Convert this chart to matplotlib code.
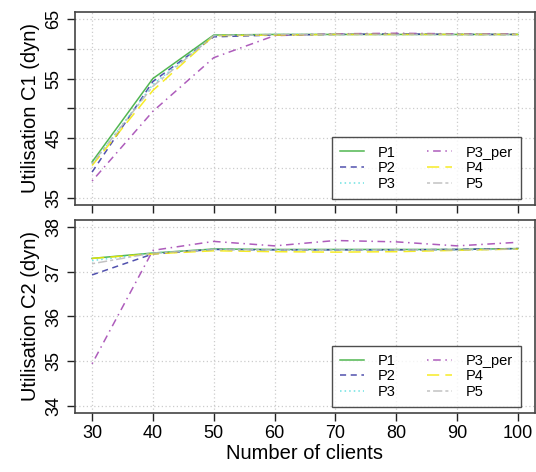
import matplotlib
matplotlib.use("Agg")
import matplotlib.pyplot as plt
from matplotlib.ticker import FixedLocator, FuncFormatter

plt.rcParams["font.family"] = ["Liberation Sans", "DejaVu Sans"]

# ---------- data ----------
clients = [30, 40, 50, 60, 70, 80, 90, 100]
series_names = ["P1", "P2", "P3", "P3_per", "P4", "P5"]

c1_p1 = [41.0, 55.0, 62.3, 62.4, 62.4, 62.4, 62.4, 62.4]
c1_p2 = [39.3, 54.5, 62.0, 62.3, 62.4, 62.5, 62.4, 62.4]
c1_p3 = [40.6, 54.0, 62.2, 62.4, 62.4, 62.4, 62.4, 62.4]
c1_p3_per = [37.8, 49.5, 58.5, 62.2, 62.5, 62.6, 62.5, 62.5]
c1_p4 = [40.4, 53.0, 62.2, 62.3, 62.4, 62.4, 62.4, 62.4]
c1_p5 = [40.7, 53.7, 62.2, 62.4, 62.4, 62.4, 62.4, 62.4]

c2_p1 = [37.30, 37.42, 37.51, 37.50, 37.50, 37.50, 37.50, 37.52]
c2_p2 = [36.93, 37.40, 37.50, 37.49, 37.49, 37.49, 37.50, 37.52]
c2_p3 = [37.25, 37.42, 37.50, 37.49, 37.49, 37.49, 37.49, 37.51]
c2_p3_per = [34.94, 37.48, 37.68, 37.58, 37.70, 37.67, 37.58, 37.66]
c2_p4 = [37.30, 37.40, 37.47, 37.45, 37.44, 37.45, 37.48, 37.51]
c2_p5 = [37.18, 37.42, 37.50, 37.49, 37.49, 37.49, 37.49, 37.51]

top_yticks = [35, 40, 45, 50, 55, 60, 65]
top_ylabels = [35, 45, 55, 65]
bot_yticks = [34, 35, 36, 37, 38]
xticks = [30, 40, 50, 60, 70, 80, 90, 100]

# ---------- styles ----------
COLORS = ["#33aa33", "#3333a0", "#55dddd", "#a040b0", "#f5e800", "#b8b8b8"]
STYLES = ["-", (0, (4, 3)), (0, (1, 2)), (0, (1, 3, 5, 3)), (0, (8, 4)), (0, (2, 2, 6, 2))]
FRAME = "#444444"


def r_range(lo, hi):
    # R-style 4% padding around the data range
    pad = (hi - lo) * 0.04
    return lo - pad, hi + pad


def style_axes(ax, yticks, ylim):
    ax.set_xlim(*r_range(30, 100))
    ax.set_ylim(*r_range(*ylim))
    ax.set_xticks(xticks)
    ax.yaxis.set_major_locator(FixedLocator(yticks))
    ax.grid(True, color="#cccccc", linestyle=(0, (1, 2)), linewidth=0.9)
    ax.set_axisbelow(True)
    for s in ax.spines.values():
        s.set_color(FRAME)
        s.set_linewidth(1.2)
    ax.tick_params(direction="out", length=6, width=1, color="#222222",
                   labelsize=13, pad=3)


def draw(ax, data):
    for name, ys, c, ls in zip(series_names, data, COLORS, STYLES):
        ax.plot(clients, ys, color=c, linestyle=ls, linewidth=1.1,
                alpha=0.85, label=name)
    leg = ax.legend(ncol=2, loc="lower right", bbox_to_anchor=(0.975, 0.015),
                    fontsize=10.5, frameon=True, fancybox=False,
                    handlelength=1.7, labelspacing=0.12, columnspacing=2.2,
                    borderpad=0.55, handletextpad=0.9, borderaxespad=0.2)
    leg.get_frame().set_edgecolor("#222222")
    leg.get_frame().set_linewidth(1.0)


fig = plt.figure(figsize=(5.36, 4.72), dpi=100)
ax1 = fig.add_axes([0.14, 0.566, 0.858, 0.409])
ax2 = fig.add_axes([0.14, 0.125, 0.858, 0.409])

draw(ax1, [c1_p1, c1_p2, c1_p3, c1_p3_per, c1_p4, c1_p5])
draw(ax2, [c2_p1, c2_p2, c2_p3, c2_p3_per, c2_p4, c2_p5])

style_axes(ax1, top_yticks, (35, 65))
style_axes(ax2, bot_yticks, (34, 38))

# top panel: ticks every 5, labels every 10
ax1.yaxis.set_major_formatter(
    FuncFormatter(lambda v, p: f"{int(v)}" if int(round(v)) in top_ylabels else ""))
ax1.tick_params(axis="x", labelbottom=False)
for ax in (ax1, ax2):
    for lbl in ax.get_yticklabels():
        lbl.set_rotation(90)
        lbl.set_va("center")

ax1.set_ylabel("Utilisation C1 (dyn)", fontsize=14.5, labelpad=4)
ax2.set_ylabel("Utilisation C2 (dyn)", fontsize=14.5, labelpad=4)
ax2.set_xlabel("Number of clients", fontsize=14.5, labelpad=1)

fig.savefig("out.png", dpi=100)
